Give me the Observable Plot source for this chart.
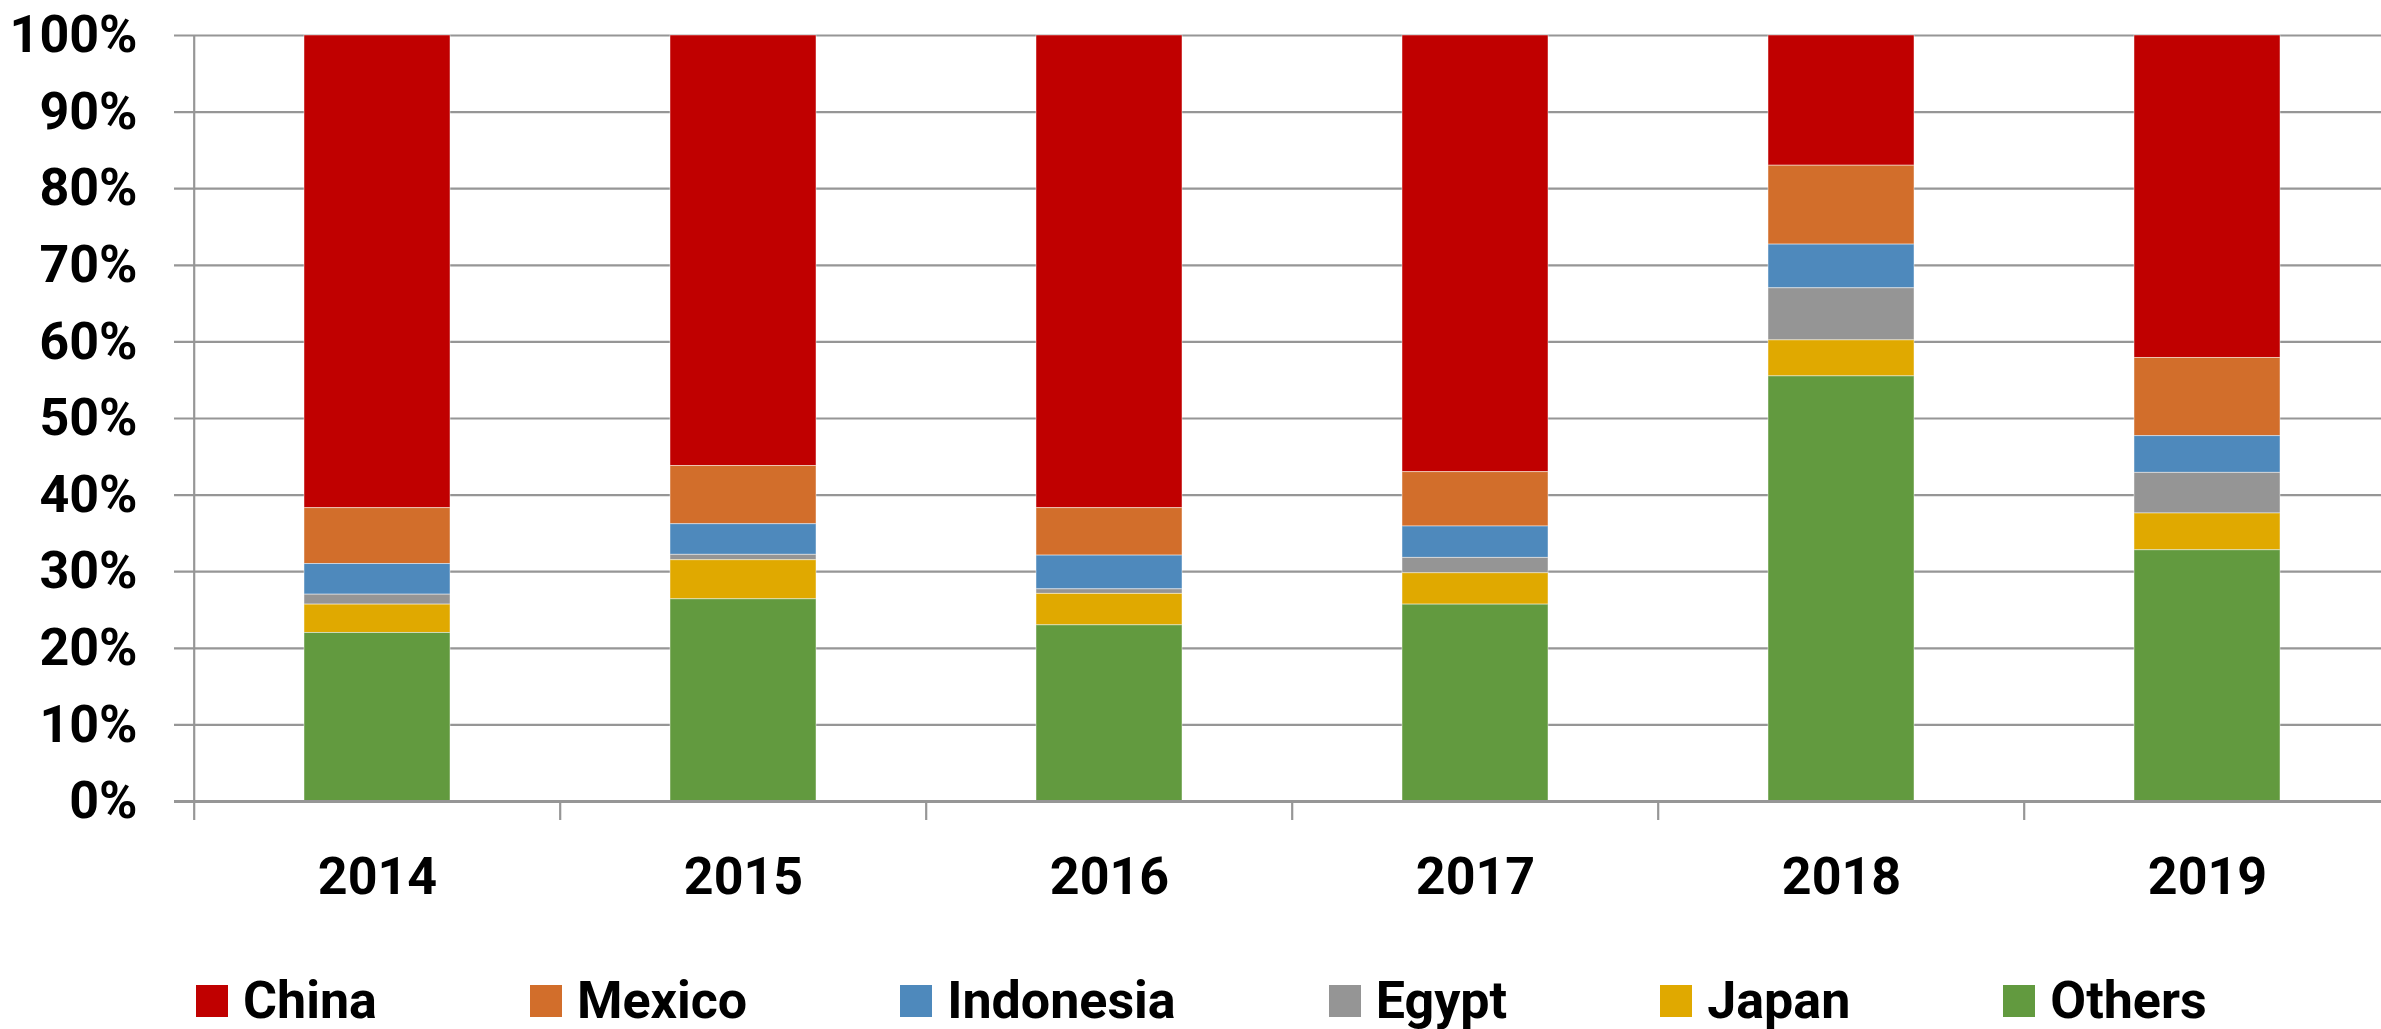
<!DOCTYPE html>
<html>
<head>
<meta charset="utf-8">
<script src="https://cdn.jsdelivr.net/npm/d3@7"></script>
<script src="https://cdn.jsdelivr.net/npm/@observablehq/plot@0.6"></script>
<style>
  html, body { margin: 0; padding: 0; background: #fff; overflow: hidden; }
  body { width: 2381px; height: 1029px; position: relative; font-family: Roboto, "Noto Sans", sans-serif; }
  #chart { position: absolute; left: 0; top: 0; width: 2392px; }
  #chart svg { max-width: none !important; height: auto; }
  #legend { position: absolute; left: 196px; top: 985px; display: flex; align-items: center; font-family: Roboto, sans-serif; font-weight: 700; font-size: 52px; color: #000; }
  .item { display: flex; align-items: center; margin-right: 153px; }
  .sw { width: 32px; height: 32px; margin-right: 15px; }
  .lb { line-height: 32px; white-space: nowrap; }
</style>
</head>
<body>
<div id="chart"></div>
<div id="legend"></div>
<script>
const years = ["2014", "2015", "2016", "2017", "2018", "2019"];
const series = ["China", "Mexico", "Indonesia", "Egypt", "Japan", "Others"];
const colors = ["#C00000", "#D26E2B", "#4E89BC", "#959595", "#E0A900", "#629A3F"];
const china = [61.7, 56.2, 61.7, 57.0, 17.0, 42.1];
const mexico = [7.3, 7.6, 6.2, 7.1, 10.3, 10.2];
const indonesia = [4.0, 4.0, 4.4, 4.1, 5.7, 4.8];
const egypt = [1.3, 0.7, 0.6, 2.0, 6.8, 5.3];
const japan = [3.7, 5.1, 4.1, 4.1, 4.7, 4.8];
const others = [22.0, 26.4, 23.0, 25.7, 55.5, 32.8];
const yTicks = [0, 10, 20, 30, 40, 50, 60, 70, 80, 90, 100];

const valuesBySeries = {China: china, Mexico: mexico, Indonesia: indonesia, Egypt: egypt, Japan: japan, Others: others};
const data = [];
series.forEach(s => years.forEach((y, i) => data.push({year: y, series: s, value: valuesBySeries[s][i]})));

const gridColor = "#969696";
const W = 2392, H = 940;

const chart = Plot.plot({
  width: W,
  height: H,
  marginLeft: 192,
  marginRight: 0,
  marginTop: 35,
  marginBottom: 139,
  style: {fontFamily: "Roboto, sans-serif", fontWeight: 700, fontSize: "52px", color: "#000", background: "#fff", overflow: "visible", maxWidth: "none"},
  x: {domain: years, paddingInner: 0.6, paddingOuter: 0.3, label: null},
  y: {domain: [0, 100], label: null},
  color: {domain: series, range: colors},
  marks: [
    Plot.ruleY(yTicks.filter(d => d > 0), {y: d => d, stroke: gridColor, strokeWidth: 2.2, insetLeft: -18}),
    Plot.barY(data, Plot.stackY({
      x: "year", y: "value", fill: "series",
      order: ["Others", "Japan", "Egypt", "Indonesia", "Mexico", "China"],
      stroke: "#ffffff", strokeOpacity: 0.45, strokeWidth: 1
    })),
    Plot.ruleY([0], {stroke: gridColor, strokeWidth: 3, insetLeft: -18}),
    Plot.axisY({ticks: yTicks, tickFormat: d => d + "%", tickSize: 0, tickPadding: 55, fontSize: 52, fontWeight: 700, fill: "#000"}),
    Plot.axisX({tickSize: 0, tickPadding: 56, fontSize: 52, fontWeight: 700, fill: "#000"})
  ]
});
chart.style.maxWidth = "none";
document.getElementById("chart").appendChild(chart);

// axis line and category boundary ticks from the Plot scales
const xs = chart.scale("x"), ysc = chart.scale("y");
const svg = d3.select(chart);
const y0 = ysc.apply(0), y100 = ysc.apply(100);
const g = svg.append("g").attr("stroke", gridColor).attr("stroke-width", 2.2);
const half = xs.step * xs.paddingInner / 2;
years.forEach((yr, i) => {
  const bx = xs.apply(yr) - half;
  g.append("line").attr("x1", bx).attr("x2", bx)
    .attr("y1", i === 0 ? y100 : y0).attr("y2", y0 + 19);
});

// legend
const legend = document.getElementById("legend");
series.forEach((s, i) => {
  const item = document.createElement("div");
  item.className = "item";
  const sw = document.createElement("div");
  sw.className = "sw";
  sw.style.background = colors[i];
  const lb = document.createElement("div");
  lb.className = "lb";
  lb.textContent = s;
  item.appendChild(sw);
  item.appendChild(lb);
  legend.appendChild(item);
});
</script>
</body>
</html>
